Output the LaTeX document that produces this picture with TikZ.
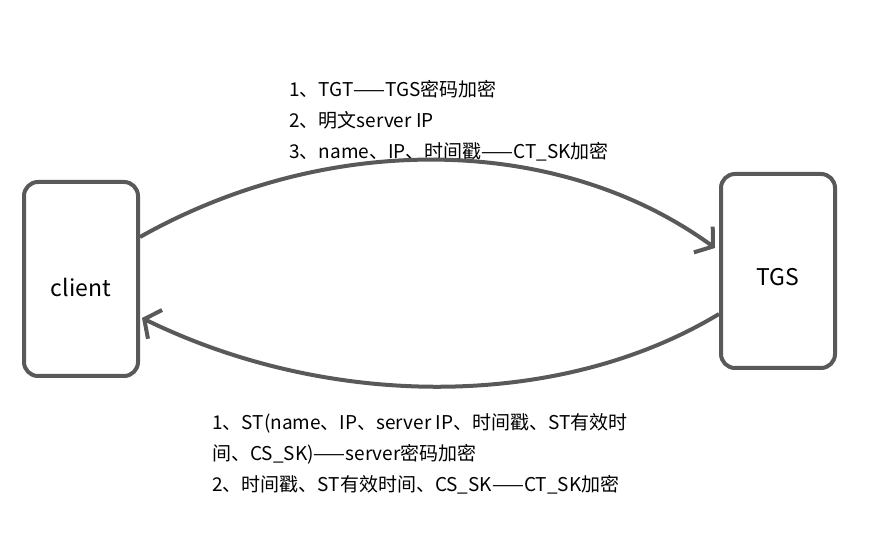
\documentclass[tikz,border=0pt]{standalone}
\usepackage{fontspec}
\setmainfont{Noto Sans CJK SC}
\usetikzlibrary{arrows.meta}
\begin{document}
\begin{tikzpicture}[
  x=1pt, y=1pt,
  box/.style={rectangle, rounded corners=14pt, draw=linegray, line width=4pt, minimum width=114pt, minimum height=194pt, font=\fontsize{23}{26}\selectfont},
  note/.style={anchor=north west, inner sep=0pt, align=left, font=\fontsize{19}{31}\selectfont},
  link/.style={draw=linegray, line width=4pt, -{Straight Barb[length=12pt,width=32pt,line width=4pt]}}
]
\definecolor{linegray}{HTML}{595959}
\useasboundingbox (0,0) rectangle (877,535);

\node[box] (client) at (81,256) {\raisebox{-18pt}[0pt][0pt]{client}};
\node[box] (tgs) at (778,264) {\raisebox{-15pt}[0pt][0pt]{TGS}};

\node[note] (req) at (289,455) {1、TGT——TGS密码加密\\2、明文server IP\\3、name、IP、时间戳——CT\_SK加密};
\node[note] (rep) at (212,122) {1、ST(name、IP、server IP、时间戳、ST有效时\\间、CS\_SK)——server密码加密\\2、时间戳、ST有效时间、CS\_SK——CT\_SK加密};

\draw[link] ([yshift=42pt]client.east) .. controls (330,405) and (560,400) .. ([xshift=-4pt,yshift=23pt]tgs.west);
\draw[link] ([yshift=-43pt]tgs.west) .. controls (560,125) and (330,125) .. ([xshift=2pt,yshift=-39pt]client.east);
\end{tikzpicture}
\end{document}
